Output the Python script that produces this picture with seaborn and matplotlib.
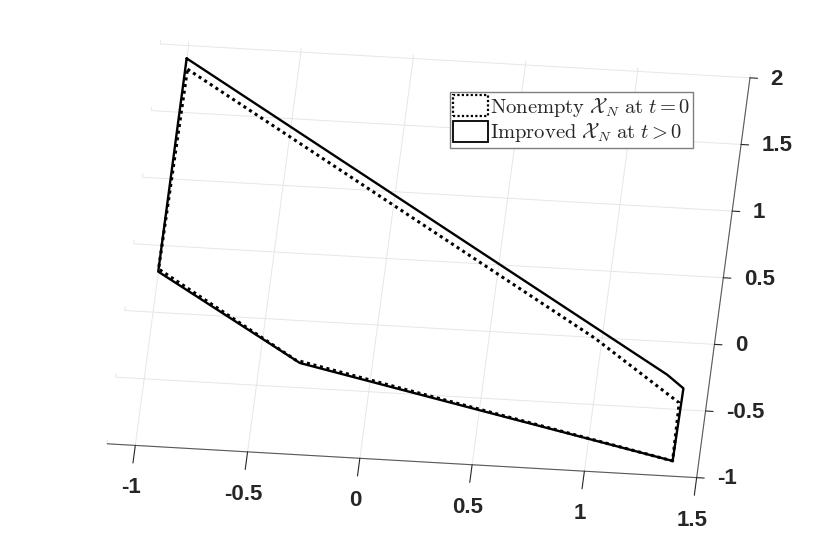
import numpy as np
import matplotlib
matplotlib.use("Agg")
import matplotlib.pyplot as plt
from matplotlib.patches import Patch
import seaborn as sns

# 데이터 (그림에서 읽은 꼭짓점 좌표)
x_nonempty = [-0.99, 0.97, 1.38, 1.385, -0.34, -1.0, -0.99]
y_nonempty = [1.81, -0.02, -0.465, -0.90, -0.31, 0.31, 1.81]

x_improved = [-1.0, 1.31, 1.39, 1.385, -0.32, -1.0, -1.0]
y_improved = [1.89, -0.26, -0.355, -0.90, -0.33, 0.29, 1.89]

x_ticks = [-1, -0.5, 0, 0.5, 1, 1.5]
x_ticklabels = ['-1', '-0.5', '0', '0.5', '1', '1.5']
y_ticks = [-1, -0.5, 0, 0.5, 1, 1.5, 2]
y_ticklabels = ['-1', '-0.5', '0', '0.5', '1', '1.5', '2']

legend_labels = [r'$\mathrm{Nonempty}\ \mathcal{X}_N\ \mathrm{at}\ t=0$',
                 r'$\mathrm{Improved}\ \mathcal{X}_N\ \mathrm{at}\ t>0$']

sns.set_style('white')
plt.rcParams['font.family'] = ['Liberation Sans', 'DejaVu Sans']
plt.rcParams['mathtext.fontset'] = 'cm'
plt.rcParams['axes.unicode_minus'] = False

fig = plt.figure(figsize=(8.3, 5.4), dpi=100)
ax = fig.add_axes([0.5076 - 0.5, 0.507 - 0.5, 1.0, 1.0], projection='3d')
ax.set_proj_type('ortho')
ax.view_init(elev=41, azim=-85)
ax.set_box_aspect((590, 610, 5), zoom=1.53)

# 다각형 (z=0 평면)
ax.plot(x_nonempty, y_nonempty, np.zeros(len(x_nonempty)), color='black',
        linestyle=(0, (1, 1.2)), linewidth=2.2)
ax.plot(x_improved, y_improved, np.zeros(len(x_improved)), color='black',
        linestyle='-', linewidth=1.7)

ax.set_xlim(-1.125, 1.5)
ax.set_ylim(-1, 2)
ax.set_zlim(-1, 1)

ax.set_xticks(x_ticks)
ax.set_xticklabels(x_ticklabels, fontsize=16, fontweight='bold')
ax.set_yticks(y_ticks)
ax.set_yticklabels(y_ticklabels, fontsize=16, fontweight='bold',
                   ha='left', va='center')
ax.set_zticks([])

for axis in (ax.xaxis, ax.yaxis, ax.zaxis):
    axis.set_pane_color((1, 1, 1, 0))
    axis.pane.set_edgecolor((1, 1, 1, 0))
    axis._axinfo['grid']['color'] = (0.9, 0.9, 0.9, 1)
    axis._axinfo['grid']['linewidth'] = 0.7
    axis._axinfo['tick']['outward_factor'] = 0.0
    axis.line.set_color('#5a5a5a')
    axis.line.set_linewidth(0.8)
# 눈금은 바깥쪽으로
ax.xaxis._axinfo['tick']['inward_factor'] = 0.55
ax.yaxis._axinfo['tick']['inward_factor'] = 0.16
ax.zaxis.line.set_color((1, 1, 1, 0))
ax.xaxis.set_tick_params(pad=8, colors='#262626', width=0.6)
ax.yaxis.set_tick_params(pad=-1, colors='#262626', width=0.6)

handles = [Patch(facecolor='white', edgecolor='black', linestyle=(0, (1, 1)), linewidth=1.6),
           Patch(facecolor='white', edgecolor='black', linestyle='-', linewidth=1.3)]
ax.legend(handles, legend_labels, loc='upper right',
          bbox_to_anchor=(693 / 830, 1 - 92 / 540), bbox_transform=fig.transFigure,
          fontsize=14.8, frameon=True, fancybox=False, edgecolor='#7f7f7f',
          framealpha=1, borderpad=0.15, handlelength=1.7, handleheight=1.2,
          handletextpad=0.1, labelspacing=0.12, borderaxespad=0)

fig.savefig('out.png', dpi=100)
